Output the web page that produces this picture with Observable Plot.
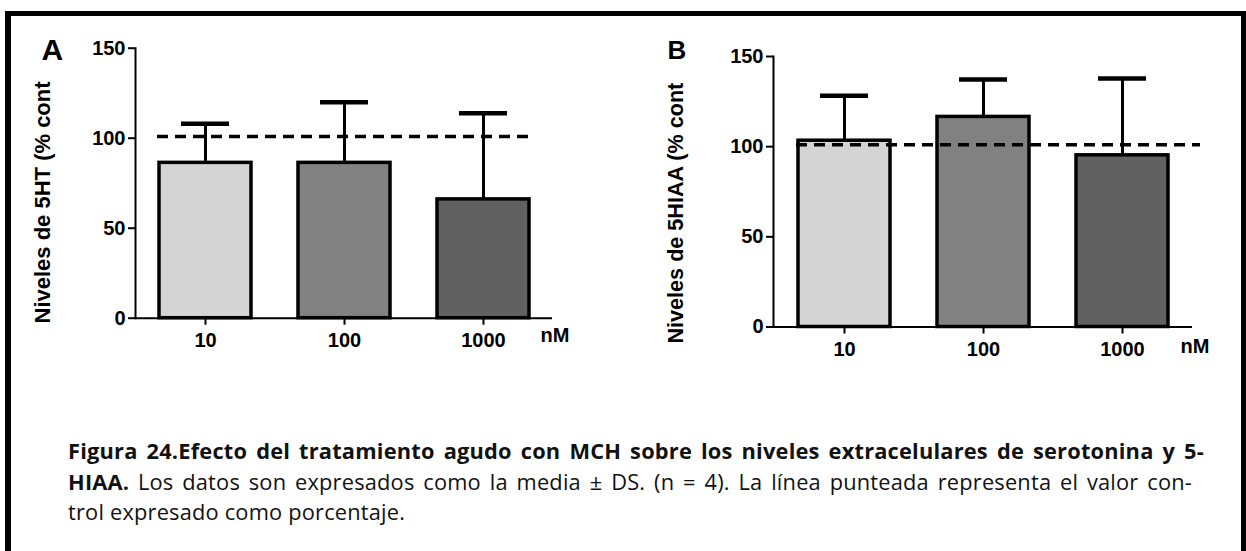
<!DOCTYPE html>
<html>
<head>
<meta charset="utf-8">
<script src="https://cdn.jsdelivr.net/npm/d3@7"></script>
<script src="https://cdn.jsdelivr.net/npm/@observablehq/plot@0.6"></script>
<style>
  html, body { margin: 0; padding: 0; background: #fff; }
  body { width: 1246px; height: 551px; overflow: hidden; position: relative; }
  #frame { position: absolute; left: 5px; top: 11px; width: 1241px; height: 600px; box-sizing: border-box;
           border-top: 5px solid #000; border-left: 6px solid #000; border-right: 5px solid #000; z-index: 5; pointer-events: none; }
  .panel { position: absolute; top: 0; }
  #caption { position: absolute; left: 68px; top: 436px; font-family: "Open Sans", Lato, sans-serif; font-size: 21.8px; letter-spacing: 0.2px; color: #111; line-height: 30.5px; }
  #caption .line { white-space: nowrap; }
  #caption .j { text-align: justify; text-align-last: justify; white-space: normal; }
</style>
</head>
<body>
<div id="frame"></div>
<div id="panelA" class="panel" style="left:0px"></div>
<div id="panelB" class="panel" style="left:640px"></div>
<div id="caption">
  <div class="line j" style="width:1136px"><b>Figura 24.Efecto del tratamiento agudo con MCH sobre los niveles extracelulares de serotonina y 5-</b></div>
  <div class="line j" style="width:1124px"><b>HIAA.</b> Los datos son expresados como la media ± DS. (n = 4). La línea punteada representa el valor con-</div>
  <div class="line">trol expresado como porcentaje.</div>
</div>
<script>
// ---- data ----
const categories = ["10", "100", "1000"];
const meanA = [86.3, 86.3, 66.0];
const sdA = [21.7, 33.7, 47.9];
const meanB = [103.3, 116.5, 95.2];
const sdB = [24.9, 20.7, 42.6];
const controlLevel = 101;
const yTicks = [0, 50, 100, 150];
const unitLabel = "nM";
const labelA = "Niveles de 5HT (% cont";
const labelB = "Niveles de 5HIAA (% cont";

function panel(opts) {
  const data = categories.map((c, i) => ({cat: c, mean: opts.mean[i], sd: opts.sd[i]}));
  const W = opts.width, H = opts.height;
  return Plot.plot({
    width: W, height: H,
    marginLeft: opts.ml, marginRight: opts.mr, marginTop: opts.mt, marginBottom: opts.mb,
    style: {background: "transparent", fontFamily: "'Liberation Sans', Arial, sans-serif", fontSize: "20px", fontWeight: "bold", color: "#000", overflow: "visible"},
    x: {domain: categories, paddingInner: 0.34, paddingOuter: 0.17, label: null},
    y: {domain: [0, 150], label: null},
    color: {domain: categories, range: ["#d4d4d4", "#818181", "#616161"]},
    marks: [
      Plot.barY(data, {x: "cat", y: "mean", fill: "cat", stroke: "#000", strokeWidth: 3.5}),
      Plot.ruleX(data, {x: "cat", y1: "mean", y2: d => d.mean + d.sd, stroke: "#000", strokeWidth: 3}),
      Plot.tickY(data, {x: "cat", y: d => d.mean + d.sd, stroke: "#000", strokeWidth: 4.5, insetLeft: 22, insetRight: 22}),
      Plot.ruleY([controlLevel], {stroke: "#000", strokeWidth: 3.5, strokeDasharray: "11,7", insetLeft: opts.dashL, insetRight: opts.dashR}),
      Plot.ruleY([0], {stroke: "#000", strokeWidth: 2}),
      Plot.frame({anchor: "left", stroke: "#000", strokeWidth: 2}),
      Plot.axisY({ticks: yTicks, tickSize: 7, tickPadding: 3, strokeWidth: 2, label: null}),
      Plot.axisX({tickSize: 7, tickPadding: 8, strokeWidth: 2, label: null}),
      Plot.text([unitLabel], {frameAnchor: "bottom-right", textAnchor: "start", lineAnchor: "bottom", dx: -12, dy: opts.unitDy, fontSize: 20}),
      Plot.text([opts.letter], {frameAnchor: "top-left", textAnchor: "start", lineAnchor: "bottom", dx: opts.letterDx, dy: opts.letterDy, fontSize: opts.letterSize}),
      Plot.text([opts.ylabel], {frameAnchor: "bottom-left", rotate: -90, textAnchor: "start", lineAnchor: "middle", dx: opts.labelDx, dy: opts.labelDy, fontSize: opts.labelSize})
    ]
  });
}

document.getElementById("panelA").append(panel({
  mean: meanA, sd: sdA, letter: "A", ylabel: labelA,
  width: 620, height: 370, ml: 135, mr: 68, mt: 47.7, mb: 52.3,
  dashL: 22, dashR: 18, unitDy: 24,
  letterDx: -94, letterDy: 12, letterSize: 30,
  labelDx: -93, labelDy: 5.3, labelSize: 22
}));
document.getElementById("panelB").append(panel({
  mean: meanB, sd: sdB, letter: "B", ylabel: labelB,
  width: 600, height: 380, ml: 133, mr: 48, mt: 56, mb: 53.5,
  dashL: 23, dashR: -8, unitDy: 26,
  letterDx: -106, letterDy: 2, letterSize: 26,
  labelDx: -97, labelDy: 16.5, labelSize: 21.6
}));
</script>
</body>
</html>
